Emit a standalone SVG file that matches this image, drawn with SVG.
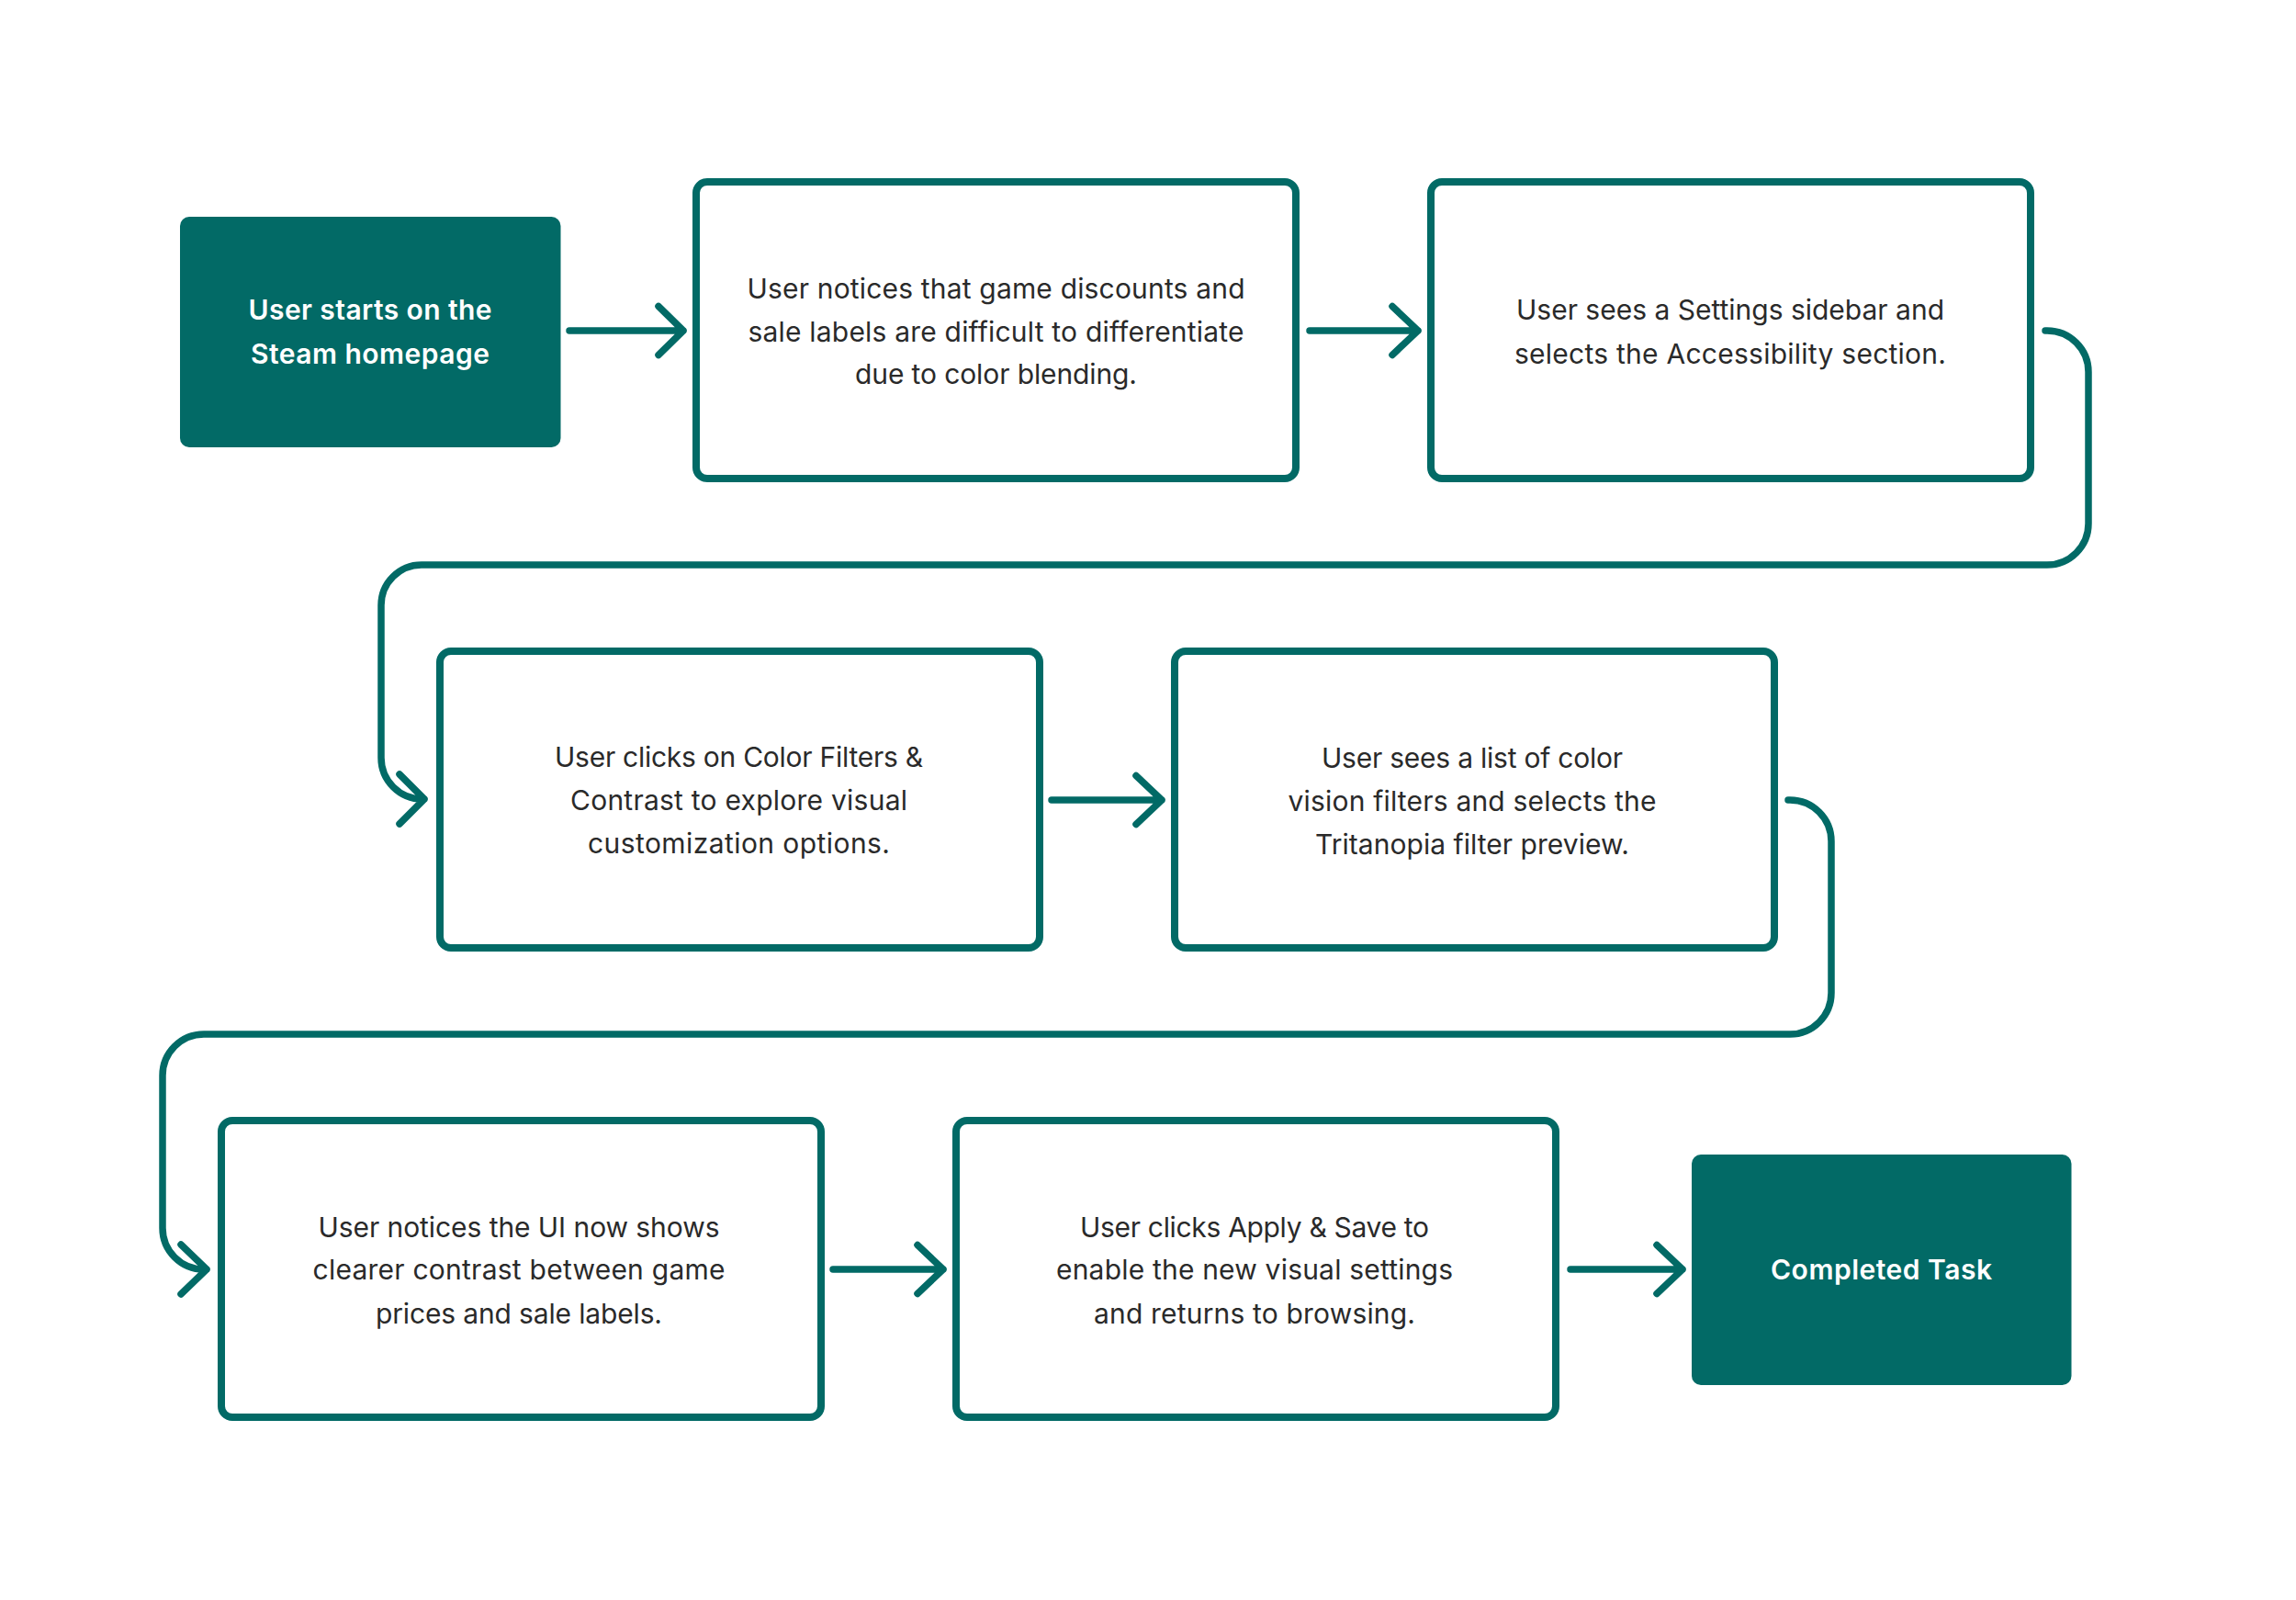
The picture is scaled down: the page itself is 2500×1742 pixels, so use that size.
<svg xmlns="http://www.w3.org/2000/svg" width="2500" height="1742" viewBox="0 0 2500 1742">
<style>
.box{fill:#ffffff;stroke:#026a66;stroke-width:8}
.term{fill:#026a66}
.con{fill:none;stroke:#026a66;stroke-width:7.5;stroke-linecap:round;stroke-linejoin:round}
.t{font-family:Inter,"Liberation Sans",sans-serif;font-size:30px;fill:#2a2a2a;text-anchor:middle}
.tw{font-family:Inter,"Liberation Sans",sans-serif;font-size:30px;font-weight:600;fill:#ffffff;text-anchor:middle}
</style>
<rect width="2500" height="1742" fill="#ffffff"/>
<g id="connectors">
  <path class="con" d="M620,360 H744 M717,333.5 L744,360 L717,386.5"/>
  <path class="con" d="M1426,360 H1544 M1516,333.5 L1544,360 L1516,386.5"/>
  <path class="con" d="M2227,360 H2229 A45,45 0 0 1 2274,405 V570 A45,45 0 0 1 2229,615 H459 A44,44 0 0 0 415,659 V825 A45,45 0 0 0 460,870 H462 M435,843 L462,870 L435,897"/>
  <path class="con" d="M1145,871 H1265 M1237,844.5 L1265,871 L1237,897.5"/>
  <path class="con" d="M1947,871 H1949 A45,45 0 0 1 1994,916 V1081 A45,45 0 0 1 1949,1126 H222 A45,45 0 0 0 177,1171 V1337 A45,45 0 0 0 222,1382 H225 M197,1355 L225,1382 L197,1409"/>
  <path class="con" d="M907,1382 H1027 M999,1355.5 L1027,1382 L999,1408.5"/>
  <path class="con" d="M1710,1382 H1832 M1804,1355.5 L1832,1382 L1804,1408.5"/>
</g>
<g id="n1">
  <rect class="term" x="196" y="236" width="414.5" height="251" rx="10"/>
  <text class="tw" x="403" y="348" textLength="265">User starts on the</text>
  <text class="tw" x="403" y="396" textLength="260">Steam homepage</text>
</g>
<g id="n2">
  <rect class="box" x="758" y="198" width="653" height="323" rx="12"/>
  <text class="t" x="1084.5" y="325" textLength="542">User notices that game discounts and</text>
  <text class="t" x="1084.5" y="372" textLength="540">sale labels are difficult to differentiate</text>
  <text class="t" x="1084.5" y="418" textLength="307">due to color blending.</text>
</g>
<g id="n3">
  <rect class="box" x="1558" y="198" width="653" height="323" rx="12"/>
  <text class="t" x="1884" y="348" textLength="466">User sees a Settings sidebar and</text>
  <text class="t" x="1884" y="396" textLength="470">selects the Accessibility section.</text>
</g>
<g id="n4">
  <rect class="box" x="479" y="709" width="653" height="323" rx="12"/>
  <text class="t" x="804.5" y="835" textLength="401">User clicks on Color Filters &amp;</text>
  <text class="t" x="804.5" y="882" textLength="367">Contrast to explore visual</text>
  <text class="t" x="804.5" y="929" textLength="329">customization options.</text>
</g>
<g id="n5">
  <rect class="box" x="1279" y="709" width="653" height="323" rx="12"/>
  <text class="t" x="1603" y="836" textLength="328">User sees a list of color</text>
  <text class="t" x="1603" y="883" textLength="401">vision filters and selects the</text>
  <text class="t" x="1603" y="930" textLength="342">Tritanopia filter preview.</text>
</g>
<g id="n6">
  <rect class="box" x="241" y="1220" width="653" height="323" rx="12"/>
  <text class="t" x="565" y="1347" textLength="437">User notices the UI now shows</text>
  <text class="t" x="565" y="1393" textLength="449">clearer contrast between game</text>
  <text class="t" x="565" y="1441" textLength="312">prices and sale labels.</text>
</g>
<g id="n7">
  <rect class="box" x="1041" y="1220" width="653" height="323" rx="12"/>
  <text class="t" x="1366" y="1347" textLength="380">User clicks Apply &amp; Save to</text>
  <text class="t" x="1366" y="1393" textLength="432">enable the new visual settings</text>
  <text class="t" x="1366" y="1441" textLength="350">and returns to browsing.</text>
</g>
<g id="n8">
  <rect class="term" x="1842" y="1257" width="413.5" height="251" rx="10"/>
  <text class="tw" x="2048.5" y="1393" textLength="241">Completed Task</text>
</g>
</svg>
